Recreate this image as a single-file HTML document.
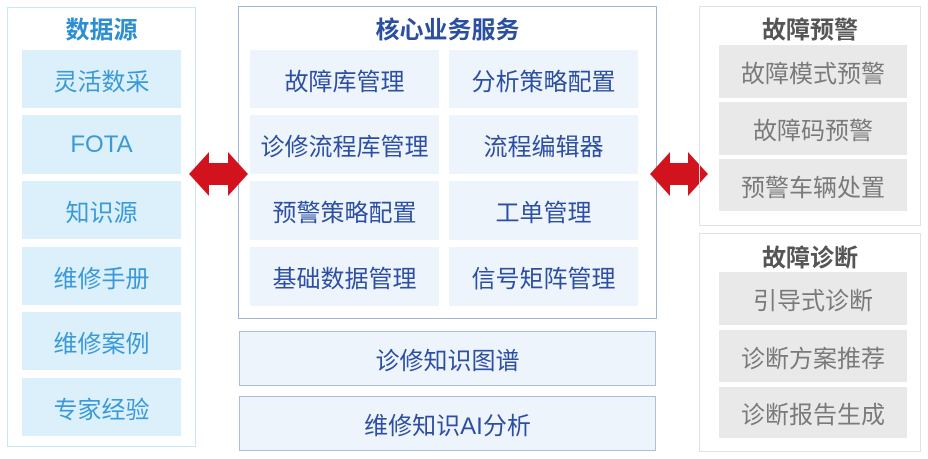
<!DOCTYPE html>
<html><head><meta charset="utf-8"><style>
*{margin:0;padding:0;box-sizing:border-box}
body{width:928px;height:459px;background:#fff;position:relative;overflow:hidden;font-family:"Liberation Sans","Noto Sans CJK SC",sans-serif}
.a{position:absolute;display:flex;align-items:center;justify-content:center;white-space:nowrap}
.p{position:absolute}
.t{font-weight:bold;font-size:24px}
.l{background:#dcf0fb;color:#3a9ad9;font-size:24px}
.c{background:#eef4fc;color:#2d4fa3;font-size:24px}
.g{background:#e9e9e9;color:#7a7a7a;font-size:24px}
</style></head><body>
<div class="p" style="left:7px;top:7px;width:189px;height:440px;border:1px solid #c9e6f3"></div>
<div class="a t" style="left:7px;top:12px;width:189px;height:30px;color:#2c8fd1">数据源</div>
<div class="a l" style="left:22px;top:50px;width:159px;height:58px">灵活数采</div>
<div class="a l" style="left:22px;top:115px;width:159px;height:59px">FOTA</div>
<div class="a l" style="left:22px;top:181px;width:159px;height:58px">知识源</div>
<div class="a l" style="left:22px;top:247px;width:159px;height:58px">维修手册</div>
<div class="a l" style="left:22px;top:312px;width:159px;height:58px">维修案例</div>
<div class="a l" style="left:22px;top:378px;width:159px;height:58px">专家经验</div>

<div class="p" style="left:238px;top:6px;width:419px;height:313px;border:1px solid #9fb6d4"></div>
<div class="a t" style="left:238px;top:12px;width:419px;height:30px;color:#2b4fa0">核心业务服务</div>
<div class="a c" style="left:250px;top:50px;width:189px;height:58px">故障库管理</div>
<div class="a c" style="left:449px;top:50px;width:189px;height:58px">分析策略配置</div>
<div class="a c" style="left:250px;top:115px;width:189px;height:59px">诊修流程库管理</div>
<div class="a c" style="left:449px;top:115px;width:189px;height:59px">流程编辑器</div>
<div class="a c" style="left:250px;top:181px;width:189px;height:59px">预警策略配置</div>
<div class="a c" style="left:449px;top:181px;width:189px;height:59px">工单管理</div>
<div class="a c" style="left:250px;top:247px;width:189px;height:59px">基础数据管理</div>
<div class="a c" style="left:449px;top:247px;width:189px;height:59px">信号矩阵管理</div>
<div class="a c" style="left:239px;top:331px;width:417px;height:55px;border:1px solid #a9bfdc">诊修知识图谱</div>
<div class="a c" style="left:239px;top:396px;width:417px;height:55px;border:1px solid #a9bfdc">维修知识AI分析</div>

<svg class="p" style="left:0;top:0" width="928" height="459">
<polygon fill="#d2121c" points="189,174 209,152 209,163 228,163 228,152 248,174 228,196 228,185 209,185 209,196"/>
<polygon fill="#d2121c" points="650,174 670,152 670,163 688,163 688,152 708,174 688,196 688,185 670,185 670,196"/>
</svg>

<div class="p" style="left:699px;top:6px;width:222px;height:220px;border:1px solid #e2e2e2"></div>
<div class="a t" style="left:699px;top:12px;width:222px;height:30px;color:#555">故障预警</div>
<div class="a g" style="left:719px;top:45px;width:188px;height:53px">故障模式预警</div>
<div class="a g" style="left:719px;top:102px;width:188px;height:53px">故障码预警</div>
<div class="a g" style="left:719px;top:159px;width:188px;height:52px">预警车辆处置</div>

<div class="p" style="left:699px;top:233px;width:222px;height:219px;border:1px solid #e2e2e2"></div>
<div class="a t" style="left:699px;top:240px;width:222px;height:30px;color:#555">故障诊断</div>
<div class="a g" style="left:719px;top:272px;width:188px;height:53px">引导式诊断</div>
<div class="a g" style="left:719px;top:330px;width:188px;height:52px">诊断方案推荐</div>
<div class="a g" style="left:719px;top:387px;width:188px;height:51px">诊断报告生成</div>
</body></html>
